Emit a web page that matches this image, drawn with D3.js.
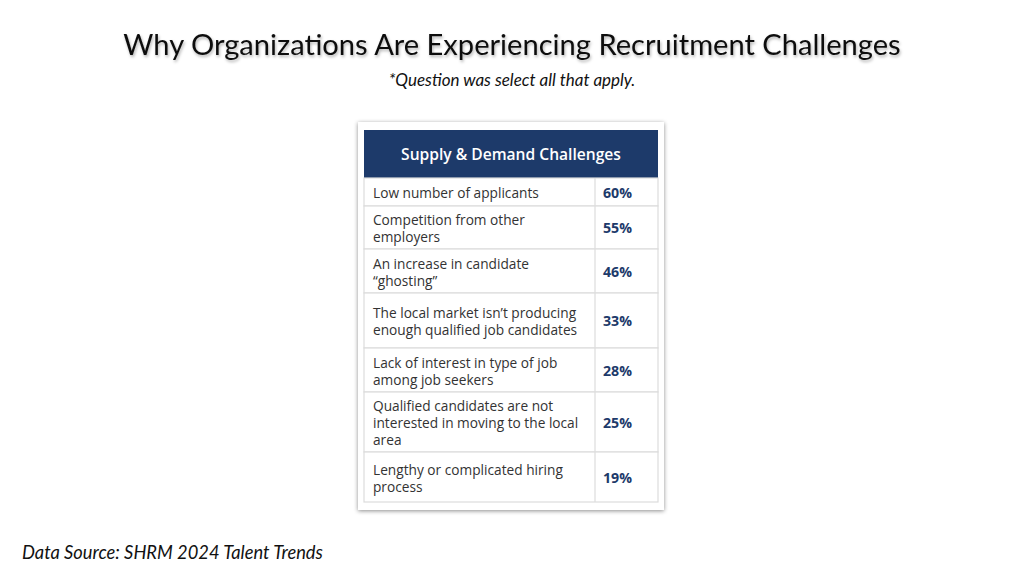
<!DOCTYPE html>
<html><head><meta charset="utf-8">
<script src="https://cdn.jsdelivr.net/npm/d3@7"></script>
<style>
html,body{margin:0;padding:0;background:#fff;}
svg{display:block;}
</style></head>
<body>
<svg id="c" width="1024" height="576"></svg>
<script>
const title = "Why Organizations Are Experiencing Recruitment Challenges";
const subtitle = "*Question was select all that apply.";
const source = "Data Source: SHRM 2024 Talent Trends";
const header = "Supply & Demand Challenges";
const categories = [
  ["Low number of applicants"],
  ["Competition from other", "employers"],
  ["An increase in candidate", "\u201cghosting\u201d"],
  ["The local market isn\u2019t producing", "enough qualified job candidates"],
  ["Lack of interest in type of job", "among job seekers"],
  ["Qualified candidates are not", "interested in moving to the local", "area"],
  ["Lengthy or complicated hiring", "process"]
];
const values = [60, 55, 46, 33, 28, 25, 19];

// layout (relative row heights, as drawn in the reference)
const rowWeights = [28, 43, 44, 55, 44, 60, 50];

const svg = d3.select("#c");
const defs = svg.append("defs");
const f1 = defs.append("filter").attr("id","tshadow").attr("x","-10%").attr("y","-50%").attr("width","120%").attr("height","200%");
f1.append("feDropShadow").attr("dx",1).attr("dy",2).attr("stdDeviation",1.8).attr("flood-color","#000").attr("flood-opacity",0.3);
const f2 = defs.append("filter").attr("id","bshadow").attr("x","-10%").attr("y","-10%").attr("width","120%").attr("height","120%");
f2.append("feDropShadow").attr("dx",0).attr("dy",1).attr("stdDeviation",2.2).attr("flood-color","#000").attr("flood-opacity",0.45);

// titles
svg.append("text").attr("x",512).attr("y",55).attr("text-anchor","middle")
  .attr("font-family","Lato").attr("font-size",29.1).attr("fill","#111")
  .attr("filter","url(#tshadow)").text(title);
svg.append("text").attr("x",512).attr("y",86).attr("text-anchor","middle")
  .attr("font-family","Lato").attr("font-style","italic").attr("font-size",17).attr("fill","#111")
  .text(subtitle);
svg.append("text").attr("x",22).attr("y",559)
  .attr("font-family","Lato").attr("font-style","italic").attr("font-size",18.3).attr("fill","#111")
  .text(source);

// table geometry
const tx0 = 364, tx1 = 658, colX = 595;
const headTop = 130, headBot = 178, tableBot = 502;
const total = d3.sum(rowWeights);
const y = d3.scaleLinear().domain([0, total]).range([headBot, tableBot]);
let cum = 0;
const rows = categories.map((lines, i) => {
  const r = {lines, value: values[i], y0: y(cum), y1: y(cum + rowWeights[i])};
  cum += rowWeights[i];
  return r;
});

// outer frame
svg.append("rect").attr("x",358).attr("y",122).attr("width",306).attr("height",388)
  .attr("fill","#fff").attr("filter","url(#bshadow)");

// header
svg.append("rect").attr("x",tx0).attr("y",headTop).attr("width",tx1-tx0).attr("height",headBot-headTop)
  .attr("fill","#1d3a6a");
svg.append("text").attr("x",(tx0+tx1)/2).attr("y",(headTop+headBot)/2+5.5).attr("text-anchor","middle")
  .attr("font-family","Open Sans").attr("font-weight",600).attr("font-size",15.6).attr("fill","#fff")
  .text(header);

const g = svg.append("g");
const rg = g.selectAll("g.row").data(rows).join("g").attr("class","row");
rg.append("rect").attr("x",tx0).attr("y",d=>d.y0).attr("width",tx1-tx0).attr("height",d=>d.y1-d.y0)
  .attr("fill","#fff").attr("stroke","#dcdcdc").attr("stroke-width",1.2);
rg.append("line").attr("x1",colX).attr("x2",colX).attr("y1",d=>d.y0).attr("y2",d=>d.y1)
  .attr("stroke","#dcdcdc").attr("stroke-width",1.2);
rg.each(function(d){
  const n = d.lines.length;
  const mid = (d.y0 + d.y1)/2;
  const lh = 17;
  const t = d3.select(this).append("text").attr("font-family","Open Sans").attr("font-size",13.7).attr("fill","#333");
  d.lines.forEach((ln, k) => {
    t.append("tspan").attr("x",373).attr("y", mid + (k - (n-1)/2)*lh + 6).text(ln);
  });
  d3.select(this).append("text").attr("x",603).attr("y",mid+5.5)
    .attr("font-family","Open Sans").attr("font-weight",700).attr("font-size",14.2).attr("fill","#1d3a6a")
    .text(d.value + "%");
});
</script>
</body></html>
